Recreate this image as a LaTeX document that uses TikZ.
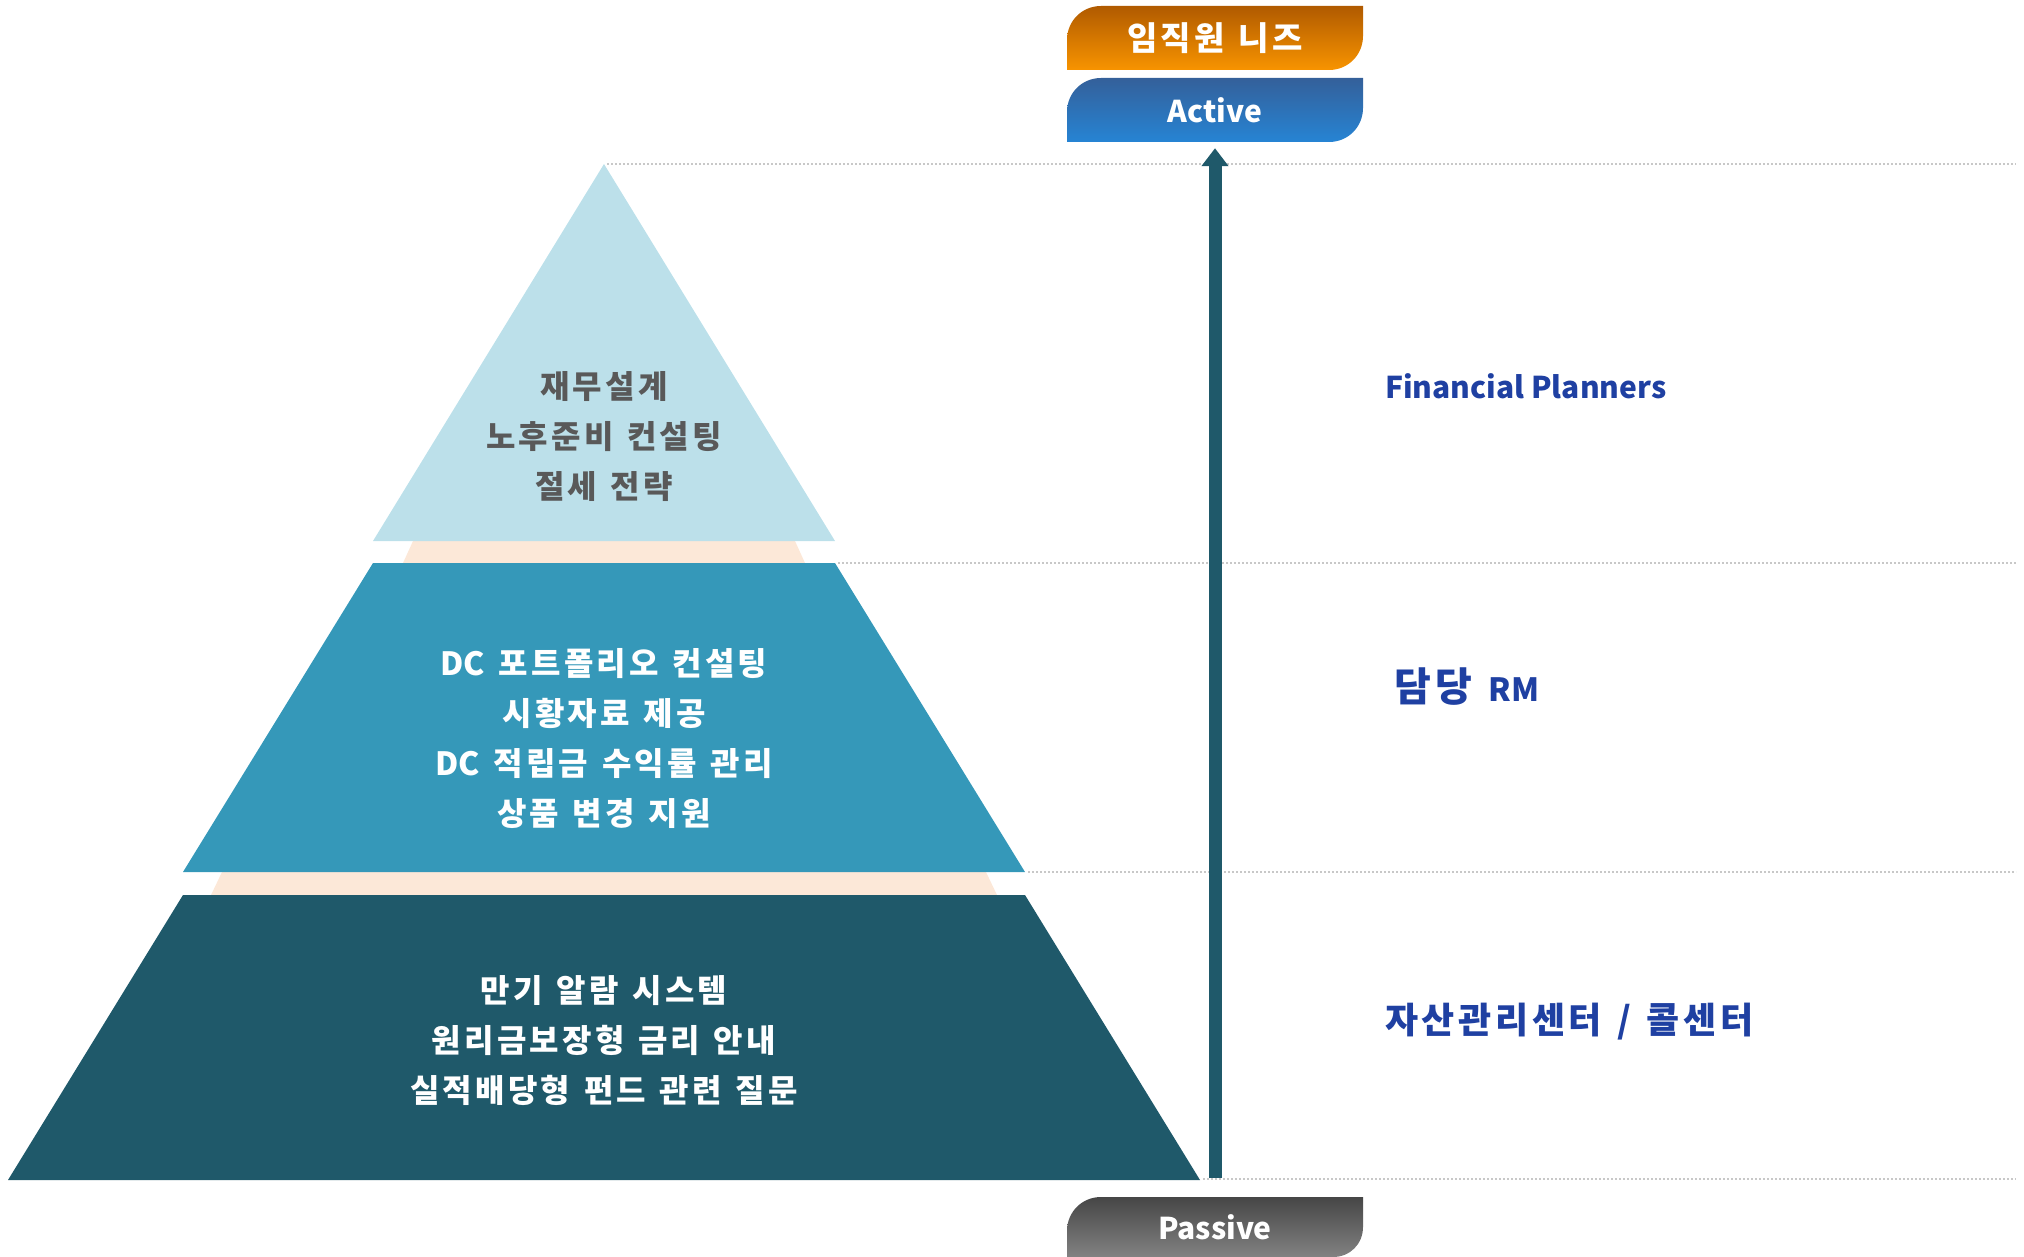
\documentclass[tikz,border=0pt]{standalone}
\usepackage{fontspec}
\setmainfont{Noto Sans CJK KR}
\newfontfamily\krwide{Noto Sans CJK KR}[LetterSpace=10, WordSpace=1.3]
\usetikzlibrary{arrows.meta,calc}

\definecolor{lightband}{HTML}{BCE0EA}
\definecolor{midband}{HTML}{3598B9}
\definecolor{darkband}{HTML}{1F596A}
\definecolor{gapband}{HTML}{FCE8D8}
\definecolor{greytext}{HTML}{595959}
\definecolor{rolecol}{HTML}{1F40A2}
\definecolor{guide}{HTML}{C8C8C8}

\begin{document}
\begin{tikzpicture}[x=1pt, y=-1pt, >={Triangle[width=26pt,length=18pt]},
  band/.style={font=\krwide\bfseries\fontsize{32}{50}\selectfont, align=center},
  role/.style={font=\krwide\bfseries\fontsize{36}{44}\selectfont, text=rolecol, anchor=west, inner sep=0pt},
  tag/.style={font=\bfseries\fontsize{30}{36}\selectfont, text=white, minimum width=296pt, minimum height=64pt, inner sep=0pt},
  guideline/.style={guide, line width=1.5pt, dash pattern=on 2pt off 2pt}]

\useasboundingbox (0,0) rectangle (2024,1257);

% guide lines
\draw[guideline] (607,164) -- (2016,164);
\draw[guideline] (838,563) -- (2016,563);
\draw[guideline] (1028,872) -- (2016,872);
\draw[guideline] (1203,1179) -- (2016,1179);

% pyramid
\fill[gapband] (413,541) -- (795,541) -- (805,563) -- (403,563) -- cycle;
\fill[gapband] (222,872) -- (986,872) -- (997,895) -- (211,895) -- cycle;
\fill[lightband] (604,164) -- (835,541) -- (373,541) -- cycle;
\fill[midband] (373,563) -- (835,563) -- (1025,872) -- (183,872) -- cycle;
\fill[darkband] (183,895) -- (1025,895) -- (1200,1180) -- (8,1180) -- cycle;

\node[band, text=greytext] (top) at (604,437) {재무설계\\노후준비 컨설팅\\절세 전략};
\node[band, text=white] (mid) at (604,739) {{\rmfamily DC} 포트폴리오 컨설팅\\시황자료 제공\\{\rmfamily DC} 적립금 수익률 관리\\상품 변경 지원};
\node[band, text=white] (bot) at (604,1041) {만기 알람 시스템\\원리금보장형 금리 안내\\실적배당형 펀드 관련 질문};

% tags
\shade[top color={rgb,255:red,176;green,90;blue,0}, bottom color={rgb,255:red,248;green,148;blue,0}]
  (1067,70) -- (1067,40) .. controls (1067,21) and (1082,6) .. (1101,6) -- (1363,6)
  -- (1363,36) .. controls (1363,55) and (1348,70) .. (1329,70) -- cycle;
\shade[top color={rgb,255:red,52;green,96;blue,154}, bottom color={rgb,255:red,38;green,132;blue,212}]
  (1067,142) -- (1067,112) .. controls (1067,93) and (1082,78) .. (1101,78) -- (1363,78)
  -- (1363,108) .. controls (1363,127) and (1348,142) .. (1329,142) -- cycle;
\shade[top color={rgb,255:red,70;green,70;blue,70}, bottom color={rgb,255:red,130;green,130;blue,130}]
  (1067,1257) -- (1067,1231) .. controls (1067,1212) and (1082,1197) .. (1101,1197) -- (1363,1197)
  -- (1363,1227) .. controls (1363,1244) and (1350,1257) .. (1333,1257) -- cycle;

\node[tag, font=\krwide\bfseries\fontsize{33}{36}\selectfont] (needs) at (1215,38) {임직원 니즈};
\node[tag] (active) at (1215,110) {Active};
\node[tag, minimum height=60pt] (passive) at (1215,1227) {Passive};

\coordinate (base) at (1215,1178);
\draw[->, darkband, line width=13pt, shorten >=6pt] (base) -- (active.south);

% roles
\node[role, font=\bfseries\fontsize{30}{36}\selectfont] (fp) at (1385,386) {Financial Planners};
\node[role, font=\krwide\bfseries\fontsize{40}{44}\selectfont] (rm) at (1394,687) {담당 {\rmfamily\fontsize{32}{36}\selectfont RM}};
\node[role] (center) at (1385,1022) {자산관리센터 / 콜센터};

\end{tikzpicture}
\end{document}
